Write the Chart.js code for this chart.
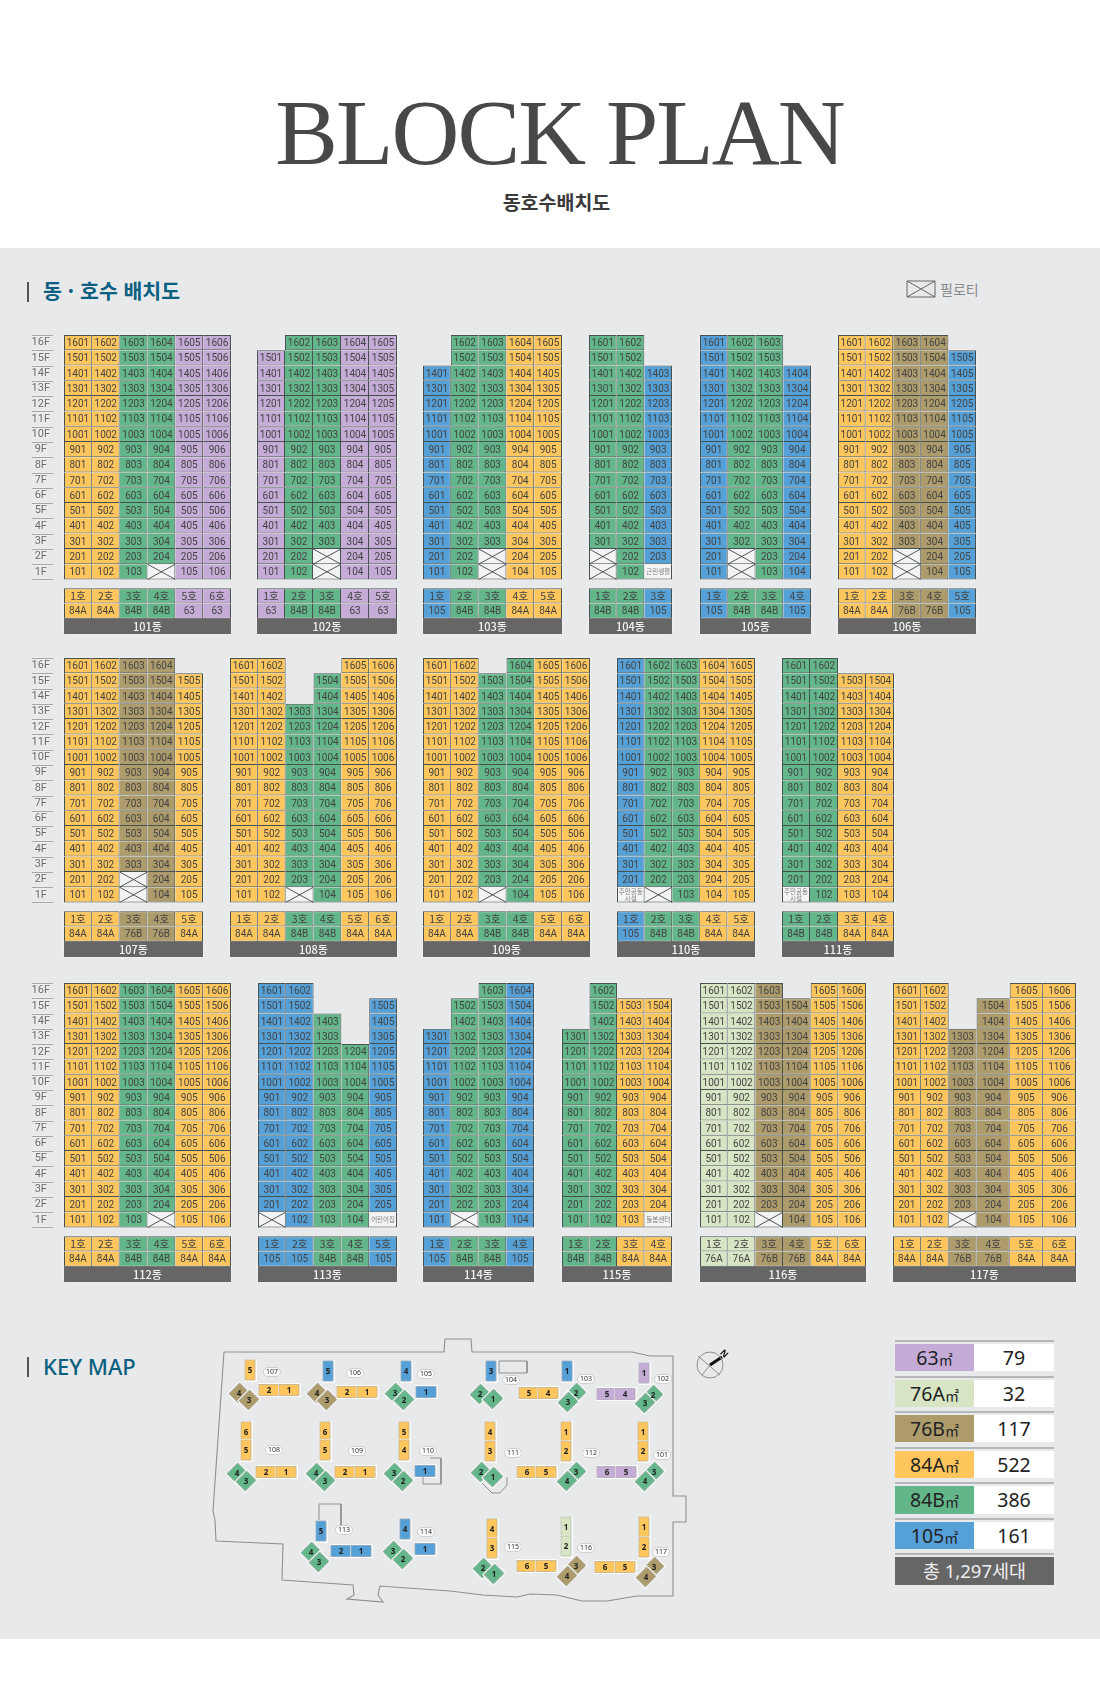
<!DOCTYPE html>
<html lang="ko">
<head>
<meta charset="utf-8">
<title>BLOCK PLAN</title>
<script src="https://cdn.jsdelivr.net/npm/chart.js@4"></script>
<style>
  html, body { margin: 0; padding: 0; background: #fff; }
  body { position: relative; width: 1100px; height: 1687px; overflow: hidden; font-family: "Noto Sans", "Noto Sans CJK KR", sans-serif; }
  .abs { position: absolute; }
  #panel { left: 0; top: 248px; width: 1100px; height: 1391px; background: #e8e9eb; }
  #title { left: 0; width: 1119px; top: 72px; text-align: center; font: 94px/120px "Liberation Serif", serif; letter-spacing: -1.9px; color: #484848; white-space: nowrap; }
  #subtitle { left: 0; width: 1113px; top: 188px; text-align: center; font: 700 19.5px/28px "Noto Sans CJK KR", sans-serif; color: #3a3a3a; }
  .bar { left: 27px; width: 2px; height: 20px; background: #555; }
  .head { left: 43px; color: #0b6080; white-space: nowrap; }
  canvas { position: absolute; filter: drop-shadow(0 0 1px rgba(255,255,255,.75)); }
  .row-rule { left: 895px; width: 159px; height: 2px; background: #b5b6b8; }
  .cell { height: 27.4px; line-height: 27px; text-align: center; font-size: 19.5px; color: #222; }
  .cell span { font-size: 14px; }
</style>
</head>
<body>
<div class="abs" id="panel"></div>
<div class="abs" id="title">BLOCK PLAN</div>
<div class="abs" id="subtitle">동호수배치도</div>
<div class="abs bar" style="top:282px"></div>
<div class="abs head" style="top:275px;font:700 20.5px/30px 'Noto Sans CJK KR',sans-serif">동 · 호수 배치도</div>
<div class="abs bar" style="top:1357px"></div>
<div class="abs head" style="top:1350px;font:500 22px/32px 'Noto Sans',sans-serif">KEY MAP</div>
<svg class="abs" style="left:906px;top:280px" width="31" height="18"><path d="M1 1H29V17H1ZM1 1L29 17M29 1L1 17" fill="none" stroke="#666" stroke-width="1"/></svg>
<div class="abs" style="left:940px;top:278px;font:14px/22px 'Noto Sans CJK KR',sans-serif;color:#8a8a8a">필로티</div>
<div id="host"></div>

<script>
// ---- block plan data ----
const blockNames = ['101동','102동','103동','104동','105동','106동','107동','108동','109동','110동','111동','112동','113동','114동','115동','116동','117동'];
const lineTypes = [
  ['84A','84A','84B','84B','63','63'],
  ['63','84B','84B','63','63'],
  ['105','84B','84B','84A','84A'],
  ['84B','84B','105'],
  ['105','84B','84B','105'],
  ['84A','84A','76B','76B','105'],
  ['84A','84A','76B','76B','84A'],
  ['84A','84A','84B','84B','84A','84A'],
  ['84A','84A','84B','84B','84A','84A'],
  ['105','84B','84B','84A','84A'],
  ['84B','84B','84A','84A'],
  ['84A','84A','84B','84B','84A','84A'],
  ['105','105','84B','84B','105'],
  ['105','84B','84B','105'],
  ['84B','84B','84A','84A'],
  ['76A','76A','76B','76B','84A','84A'],
  ['84A','84A','76B','76B','84A','84A']
];
const topFloors = [
  [16,16,16,16,16,16],
  [15,16,16,16,16],
  [14,16,16,16,16],
  [16,16,14],
  [16,16,16,14],
  [16,16,16,16,15],
  [16,16,16,16,15],
  [16,16,13,15,16,16],
  [16,16,15,16,16,16],
  [16,16,16,16,16],
  [16,16,15,15],
  [16,16,16,16,16,16],
  [16,16,14,12,15],
  [13,15,16,16],
  [13,16,15,15],
  [16,16,16,15,16,16],
  [16,16,13,15,16,16]
];
// [line, floor] of each open ground floor unit
const pilotis = [
  [[4,1]],
  [[3,2],[3,1]],
  [[3,2],[3,1]],
  [[1,2],[1,1]],
  [[2,2],[2,1]],
  [[3,2],[3,1]],
  [[3,2],[3,1]],
  [[3,1]],
  [[3,1]],
  [[2,1]],
  [],
  [[4,1]],
  [[1,1]],
  [[2,1]],
  [],
  [[3,1]],
  [[3,1]]
];
// [line, floor, name] of shared facilities
const facilities = [
  [],[],[],
  [[3,1,'근린생활']],
  [],[],[],[],[],
  [[1,1,'주민공동\n시설']],
  [[1,1,'주민공동\n시설']],
  [],
  [[5,1,'어린이집']],
  [],
  [[4,1,'돌봄센터']],
  [],[]
];
const floorTicks = [16,15,14,13,12,11,10,9,8,7,6,5,4,3,2,1];
const unitNames = ['63','76A','76B','84A','84B','105'];
const unitCounts = [79,32,117,522,386,161];
const totalLabel = '총 1,297세대';

// ---- key map data ----
const siteX = [224,444,445,471,472,632,650,673,673,686,686,673,673,637,607,582,557,530,517,483,450,380,378,383,347,354,353,282,283,216,215,213,224];
const siteY = [1352,1352,1339,1339,1352,1352,1356,1356,1496,1496,1522,1522,1596,1596,1601,1601,1595,1594,1597,1595,1591,1586,1595,1602,1599,1595,1585,1580,1544,1541,1520,1511,1352];
const roadsX = [[499,527,527,499,499],[430,441,441,423,423],[482,492,500,507,507],[319,319,341,341]];
const roadsY = [[1361,1361,1373,1373,1361],[1458,1458,1484,1484,1477],[1483,1493,1493,1485,1477],[1520,1504,1504,1526]];
const wingX = [250,239,249,269,289, 328,317,327,347,367, 406,395,404,426, 491,480,493, 529,548,567,576,568, 644,607,625,653,645,
  246,246,237,246,266,286, 325,325,316,325,345,365, 404,404,394,403,425, 490,490,481,493, 527,546,566,566,576,567, 643,643,607,626,654,645,
  321,311,319,341,361, 405,393,403,425, 492,492,483,494, 527,546,566,566,576,567, 644,644,605,625,654,646];
const wingY = [1370,1393,1400,1390,1390, 1371,1393,1400,1392,1392, 1371,1393,1400,1392, 1371,1394,1399, 1393,1393,1371,1393,1402, 1373,1394,1394,1395,1403,
  1432,1450,1473,1481,1472,1472, 1432,1450,1473,1481,1472,1472, 1432,1450,1473,1481,1471, 1432,1451,1472,1477, 1472,1472,1432,1451,1472,1481, 1432,1451,1472,1472,1472,1481,
  1531,1552,1562,1551,1551, 1529,1551,1559,1549, 1529,1548,1568,1574, 1566,1566,1527,1546,1566,1576, 1527,1547,1567,1567,1567,1577];
const wingTypes = ['84A','76B','76B','84A','84A', '105','76B','76B','84A','84A', '105','84B','84B','105', '105','84B','84B', '84A','84A','105','84B','84B', '63','63','63','84B','84B',
  '84A','84A','84B','84B','84A','84A', '84A','84A','84B','84B','84A','84A', '84A','84A','84B','84B','105', '84A','84A','84B','84B', '84A','84A','84A','84A','84B','84B', '84A','84A','63','63','84B','84B',
  '105','84B','84B','105','105', '105','84B','84B','105', '84A','84A','84B','84B', '84A','84A','76A','76A','76B','76B', '84A','84A','84A','84A','76B','76B'];
const wingNos = [5,4,3,2,1, 5,4,3,2,1, 4,3,2,1, 3,2,1, 5,4,1,2,3, 1,5,4,2,3,
  6,5,4,3,2,1, 6,5,4,3,2,1, 5,4,3,2,1, 4,3,2,1, 6,5,1,2,3,4, 1,2,6,5,3,4,
  5,4,3,2,1, 4,3,2,1, 4,3,2,1, 6,5,1,2,3,4, 1,2,6,5,3,4];
const wingKinds = ['V','D','D','H','H', 'V','D','D','H','H', 'V','D','D','H', 'V','D','D', 'H','H','V','D','D', 'V','H','H','D','D',
  'V','V','D','D','H','H', 'V','V','D','D','H','H', 'V','V','D','D','H', 'V','V','D','D', 'H','H','V','V','D','D', 'V','V','H','H','D','D',
  'V','D','D','H','H', 'V','D','D','H', 'V','V','D','D', 'H','H','V','V','D','D', 'V','V','H','H','D','D'];
const pillNames = ['107','106','105','104','103','102','108','109','110','111','112','101','113','114','115','116','117'];
const pillX = [272,355,426,511,586,663,274,357,428,513,591,662,344,426,513,586,661];
const pillY = [1372,1373,1374,1380,1379,1379,1450,1451,1451,1453,1453,1455,1530,1532,1547,1548,1552];

// ---- layout and colours ----
const blockLeft = [64,257,423,589,700,838, 64,230,423,617,782, 64,258,423,562,700,893];
const blockRight = [231,397,562,672,811,976, 203,397,590,755,894, 231,397,534,672,866,1076];
const blockTop = [335,335,335,335,335,335, 658,658,658,658,658, 983,983,983,983,983,983];
const firstInRow = [0,6,11];
const wideLines = {16: [1,1,1,1.19,1.19,1.19]};  // 117동 has wider 4~6 lines
const unitColor = {'63':'#c4acd6','76A':'#d7e5c4','76B':'#ad9b6c','84A':'#fec65c','84B':'#62b689','105':'#56a0d8'};
const lineColor = '#46504e';
const cellFont = '11.5px Roboto, sans-serif';
const krFont = '10.5px "Noto Sans CJK KR", sans-serif';
const pad = 2;
const areaHeight = 299;
const rowHeight = areaHeight / 19.57;
const rowY = floorTicks.concat([-0.57, -1.57, -2.57]);

function makeCells(b) {
  const cells = [];
  lineTypes[b].forEach(function (type, i) {
    const col = [];
    floorTicks.forEach(function (f) {
      const c = {kind: 'unit', fill: unitColor[type], text: f + '0' + (i + 1)};
      if (f > topFloors[b][i]) c.kind = 'empty';
      pilotis[b].forEach(function (p) { if (p[0] === i + 1 && p[1] === f) c.kind = 'piloti'; });
      facilities[b].forEach(function (p) { if (p[0] === i + 1 && p[1] === f) { c.kind = 'facility'; c.text = p[2]; } });
      col.push(c);
    });
    col.push({kind: 'unit', fill: unitColor[type], text: (i + 1) + '호', head: true});
    col.push({kind: 'unit', fill: unitColor[type], text: type});
    col.push({kind: 'name', fill: '#666666', text: ''});
    cells.push(col);
  });
  return cells;
}

function narrowText(ctx, text, x, y) {
  ctx.save();
  ctx.translate(x, y);
  ctx.scale(0.87, 1);
  ctx.fillText(text, 0, 0);
  ctx.restore();
}

function drawBlock(b) {
  const cells = makeCells(b);
  const hasAxis = firstInRow.indexOf(b) >= 0;
  const axisW = hasAxis ? blockLeft[b] - 32 : 0;
  const weights = wideLines[b] || cells.map(function () { return 1; });
  const total = weights.reduce(function (a, v) { return a + v; }, 0);

  const cv = document.createElement('canvas');
  cv.width = blockRight[b] - blockLeft[b] + axisW + pad * 2;
  cv.height = areaHeight + pad * 2;
  cv.style.left = (blockLeft[b] - axisW - pad) + 'px';
  cv.style.top = (blockTop[b] - pad) + 'px';
  document.getElementById('host').appendChild(cv);

  function cell(i, j) { return cells[i] && cells[i][j]; }
  function isEmpty(i, j) { const c = cell(i, j); return !c || c.kind === 'empty'; }

  const datasets = cells.map(function (col, i) {
    return {
      data: rowY.map(function (y) { return {x: weights[i], y: y}; }),
      barThickness: rowHeight,
      borderSkipped: false,
      // the name band overlaps a little so no seams show between lines
      inflateAmount: function (c) {
        const k = cell(c.datasetIndex, c.dataIndex);
        return k && k.kind === 'name' ? 0.4 : 0;
      },
      backgroundColor: function (c) {
        const k = cell(c.datasetIndex, c.dataIndex);
        if (!k || k.kind === 'empty') return 'rgba(0,0,0,0)';
        if (k.kind === 'piloti') return '#f2f3f4';
        if (k.kind === 'facility') return '#f4f4f4';
        return k.fill;
      },
      borderColor: lineColor,
      borderWidth: function (c) {
        const i = c.datasetIndex, j = c.dataIndex;
        const k = cell(i, j);
        if (!k || k.kind === 'empty' || k.kind === 'name') return 0;
        return {
          top: (j === 0 || j === 16 || isEmpty(i, j - 1)) ? 1 : 0,
          left: (i === 0 || isEmpty(i - 1, j)) ? 1 : 0,
          right: 1,
          bottom: 1
        };
      }
    };
  });

  const labelPlugin = {
    id: 'cellLabels',
    afterDatasetsDraw: function (chart) {
      const ctx = chart.ctx;
      ctx.save();
      ctx.textAlign = 'center';
      ctx.textBaseline = 'middle';
      cells.forEach(function (col, i) {
        const els = chart.getDatasetMeta(i).data;
        col.forEach(function (c, j) {
          const el = els[j];
          const l = el.base, r = el.x, t = el.y - el.height / 2, bt = el.y + el.height / 2;
          const mx = (l + r) / 2;
          if (c.kind === 'piloti') {
            ctx.strokeStyle = '#3f4645';
            ctx.lineWidth = 0.9;
            ctx.beginPath();
            ctx.moveTo(l, t); ctx.lineTo(r, bt);
            ctx.moveTo(r, t); ctx.lineTo(l, bt);
            ctx.stroke();
          } else if (c.kind === 'facility') {
            ctx.fillStyle = '#7d7d7d';
            const parts = c.text.split('\n');
            ctx.font = '6.5px "Noto Sans CJK KR", sans-serif';
            parts.forEach(function (s, n) {
              ctx.fillText(s, mx, el.y + (n - (parts.length - 1) / 2) * 6.5);
            });
          } else if (c.kind === 'unit') {
            ctx.fillStyle = '#434343';
            if (c.head) {
              ctx.font = krFont;
              ctx.fillText(c.text, mx, el.y + 0.5);
            } else {
              ctx.font = cellFont;
              narrowText(ctx, c.text, mx, el.y + 0.5);
            }
          }
        });
      });
      // block name on the grey band
      const ca = chart.chartArea;
      const sy = chart.scales.y;
      ctx.fillStyle = '#f4f4f4';
      ctx.font = '500 11px "Noto Sans CJK KR", sans-serif';
      ctx.fillText(blockNames[b], (ca.left + ca.right) / 2, sy.getPixelForValue(rowY[18]) + 0.5);
      // rules beside the floor labels
      if (hasAxis) {
        ctx.strokeStyle = '#a5a6a8';
        ctx.lineWidth = 1;
        [0].concat(floorTicks).forEach(function (f) {
          const y = Math.round(sy.getPixelForValue(f + 0.5)) + 0.5;
          ctx.beginPath();
          ctx.moveTo(pad, y);
          ctx.lineTo(pad + 21, y);
          ctx.stroke();
        });
      }
      ctx.restore();
    }
  };

  new Chart(cv, {
    type: 'bar',
    data: {datasets: datasets},
    plugins: [labelPlugin],
    options: {
      indexAxis: 'y',
      responsive: false,
      animation: false,
      events: [],
      layout: {padding: pad, autoPadding: false},
      plugins: {legend: {display: false}, tooltip: {enabled: false}},
      scales: {
        x: {type: 'linear', stacked: true, display: false, min: 0, max: total},
        y: {
          type: 'linear',
          stacked: true,
          offset: false,
          display: hasAxis,
          min: -3.07,
          max: 16.5,
          grid: {display: false, drawTicks: false},
          border: {display: false},
          afterFit: function (s) {
            s.width = axisW;
            s.paddingTop = 0;
            s.paddingBottom = 0;
          },
          afterBuildTicks: function (s) { s.ticks = floorTicks.map(function (f) { return {value: f}; }); },
          ticks: {
            autoSkip: false,
            crossAlign: 'center',
            padding: 14,
            color: '#6a6a6a',
            font: {family: 'Roboto, sans-serif', size: 11},
            callback: function (v) { return v + 'F'; }
          }
        }
      }
    }
  });
}
blockNames.forEach(function (n, b) { drawBlock(b); });

// ---- key map ----
const wingSize = {V: [10, 20], H: [20, 11], D: [15, 13]};
const sprites = {};
function sprite(kind, type) {
  const key = kind + type;
  if (sprites[key]) return sprites[key];
  const s = wingSize[kind];
  const c = document.createElement('canvas');
  c.width = s[0] + 3;
  c.height = s[1] + 3;
  const g = c.getContext('2d');
  g.fillStyle = '#fbfbfb';
  g.fillRect(0, 0, c.width, c.height);
  g.fillStyle = unitColor[type];
  g.strokeStyle = 'rgba(70,70,70,.5)';
  g.lineWidth = 0.5;
  g.fillRect(1.5, 1.5, s[0], s[1]);
  g.strokeRect(1.5, 1.5, s[0], s[1]);
  sprites[key] = c;
  return c;
}

const keyCanvas = document.createElement('canvas');
keyCanvas.width = 590;
keyCanvas.height = 290;
keyCanvas.style.left = '200px';
keyCanvas.style.top = '1325px';
keyCanvas.style.filter = 'none';
document.getElementById('host').appendChild(keyCanvas);

function toPoints(xs, ys) {
  return xs.map(function (x, i) { return {x: x, y: ys[i]}; });
}
function lineSet(xs, ys, color, width) {
  return {data: toPoints(xs, ys), showLine: true, pointRadius: 0, borderColor: color, borderWidth: width, tension: 0};
}

const keyDatasets = [lineSet(siteX, siteY, '#8e8f91', 1.1)];
roadsX.forEach(function (xs, i) { keyDatasets.push(lineSet(xs, roadsY[i], '#8e8f91', 1)); });
const wingSetIndex = keyDatasets.length;
keyDatasets.push({
  data: toPoints(wingX, wingY),
  pointRadius: 6,
  pointStyle: function (c) { return sprite(wingKinds[c.dataIndex], wingTypes[c.dataIndex]); },
  rotation: function (c) { return wingKinds[c.dataIndex] === 'D' ? -45 : 0; }
});
keyDatasets.push({data: [{x: 710, y: 1365}], pointRadius: 13, pointStyle: 'circle', borderColor: '#8e8f91', borderWidth: 1, backgroundColor: 'rgba(0,0,0,0)'});
keyDatasets.push(lineSet([698, 720], [1356, 1375], '#8e8f91', 1));
keyDatasets.push(lineSet([710, 702], [1365, 1375], '#8e8f91', 1));
keyDatasets.push(lineSet([710, 722], [1365, 1357], '#111', 3));

new Chart(keyCanvas, {
  type: 'scatter',
  data: {datasets: keyDatasets},
  plugins: [{
    id: 'keyLabels',
    afterDatasetsDraw: function (chart) {
      const ctx = chart.ctx;
      const sx = chart.scales.x, sy = chart.scales.y;
      ctx.save();
      ctx.textAlign = 'center';
      ctx.textBaseline = 'middle';
      ctx.fillStyle = '#222';
      ctx.font = '700 8px "Noto Sans", sans-serif';
      chart.getDatasetMeta(wingSetIndex).data.forEach(function (p, i) {
        ctx.fillText(String(wingNos[i]), p.x, p.y + 0.5);
      });
      ctx.font = '7px "Noto Sans", sans-serif';
      pillNames.forEach(function (n, i) {
        const x = sx.getPixelForValue(pillX[i]), y = sy.getPixelForValue(pillY[i]);
        ctx.fillStyle = '#fbfbfb';
        ctx.strokeStyle = '#b8b8b8';
        ctx.lineWidth = 0.6;
        ctx.beginPath();
        ctx.roundRect(x - 8.5, y - 4.5, 17, 9, 4.5);
        ctx.fill();
        ctx.stroke();
        ctx.fillStyle = '#333';
        ctx.fillText(n, x, y + 0.3);
      });
      ctx.translate(sx.getPixelForValue(724), sy.getPixelForValue(1354));
      ctx.rotate(Math.PI / 4);
      ctx.font = '700 9px "Noto Sans", sans-serif';
      ctx.fillStyle = '#111';
      ctx.fillText('N', 0, 0);
      ctx.restore();
    }
  }],
  options: {
    responsive: false,
    animation: false,
    events: [],
    layout: {padding: 0, autoPadding: false},
    plugins: {legend: {display: false}, tooltip: {enabled: false}},
    scales: {
      x: {type: 'linear', display: false, min: 200, max: 790},
      y: {type: 'linear', display: false, min: 1325, max: 1615, reverse: true}
    }
  }
});

// ---- unit count table ----
const host = document.getElementById('host');
const tableTop = 1344, tableStep = 35.55;
function addDiv(cls, css, text, unit) {
  const d = document.createElement('div');
  d.className = cls;
  d.style.cssText = css;
  d.textContent = text;
  if (unit) {
    const s = document.createElement('span');
    s.textContent = unit;
    d.appendChild(s);
  }
  host.appendChild(d);
}
unitNames.forEach(function (u, i) {
  const y = tableTop + i * tableStep;
  addDiv('abs row-rule', 'top:' + (y - 4) + 'px', '');
  addDiv('abs cell', 'left:895px;width:79px;top:' + y + 'px;background:' + unitColor[u], u, '㎡');
  addDiv('abs cell', 'left:974px;width:80px;top:' + y + 'px;background:#fff', String(unitCounts[i]));
});
addDiv('abs row-rule', 'top:' + (tableTop + 6 * tableStep - 4) + 'px', '');
addDiv('abs cell', 'left:895px;width:159px;color:#eee;font-size:18.5px;top:' + (tableTop + 6 * tableStep) + 'px;background:#666', totalLabel);
</script>
</body>
</html>
